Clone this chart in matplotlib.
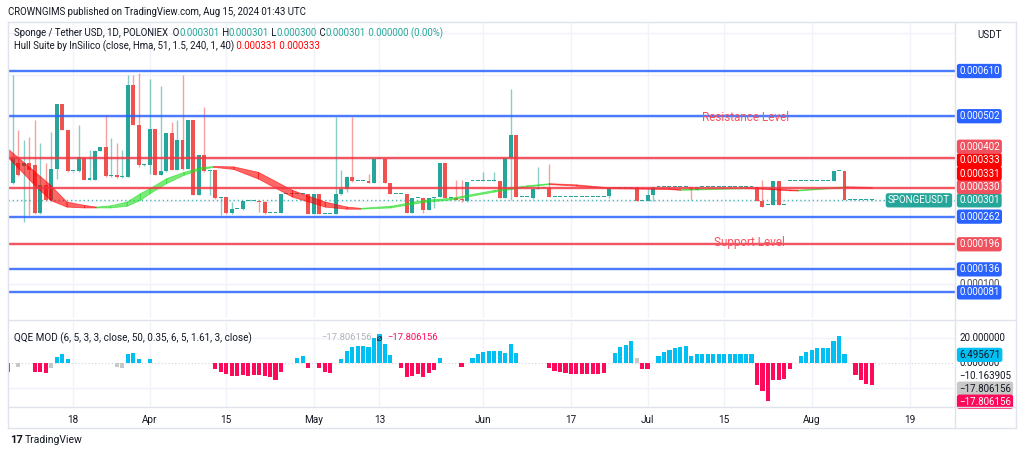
import numpy as np
import matplotlib.pyplot as plt
from matplotlib.lines import Line2D
from matplotlib.transforms import blended_transform_factory

plt.rcParams['font.family'] = ['Roboto', 'DejaVu Sans']

# daily bars, bar 0 = Mar 6 2024, prices in millionths of USDT
opens = [
    336, 342, 389, 384, 389, 385, 270, 338, 302, 377,
    530, 469, 370, 370, 401, 350, 350, 420, 428, 358,
    361, 356, 357, 577, 481, 385, 385, 471, 362, 370,
    461, 374, 445, 377, 493, 314, 409, 370, 374, 306,
    310, 270, 280, 280, 299, 299, 299, 297, 271, 271,
    271, 315, 315, 315, 315, 315, 268, 315, 269, 269,
    268, 315, 328, 357, 346, 346, 346, 342, 400, 400,
    342, 315, 315, 315, 271, 307, 307, 278, 307, 309,
    389, 307, 307, 304, 299, 346, 346, 346, 347, 347,
    348, 307, 401, 457, 309, 309, 307, 328, 331, 331,
    310, 310, 310, 310, 310, 310, 310, 310, 310, 310,
    312, 330, 330, 330, 330, 333, 299, 299, 314, 332,
    332, 332, 332, 332, 332, 332, 325, 332, 332, 332,
    332, 332, 332, 332, 332, 332, 332, 332, 299, 290,
    290, 347, 290, 347, 347, 347, 347, 347, 347, 347,
    347, 347, 371, 371, 301, 301, 301, 301, 301,
]
highs = [
    339, 600, 469, 445, 453, 493, 437, 389, 465, 530,
    530, 469, 370, 481, 401, 421, 421, 428, 505, 449,
    437, 421, 600, 600, 605, 388, 592, 471, 573, 461,
    489, 493, 600, 493, 493, 409, 525, 374, 374, 310,
    310, 297, 280, 300, 299, 299, 300, 300, 271, 271,
    315, 315, 315, 315, 315, 315, 315, 315, 269, 269,
    501, 373, 358, 501, 346, 346, 365, 400, 400, 400,
    342, 315, 315, 315, 307, 307, 307, 307, 309, 389,
    389, 307, 349, 349, 344, 346, 346, 368, 347, 368,
    348, 401, 568, 457, 309, 309, 328, 381, 331, 387,
    310, 310, 310, 310, 310, 310, 310, 310, 310, 310,
    330, 330, 330, 330, 333, 333, 299, 331, 333, 332,
    332, 332, 332, 332, 332, 332, 332, 332, 332, 332,
    332, 332, 332, 332, 332, 332, 332, 332, 349, 290,
    347, 347, 290, 347, 347, 347, 347, 347, 347, 347,
    347, 371, 371, 371, 301, 301, 301, 301, 301,
]
lows = [
    335, 341, 360, 250, 266, 268, 268, 300, 300, 353,
    469, 369, 369, 369, 349, 349, 349, 419, 357, 357,
    355, 355, 357, 481, 380, 384, 365, 361, 361, 369,
    373, 373, 373, 377, 313, 313, 369, 313, 305, 266,
    269, 269, 280, 279, 299, 299, 274, 269, 271, 271,
    270, 315, 315, 315, 315, 268, 268, 268, 269, 269,
    268, 313, 322, 345, 346, 346, 342, 342, 400, 342,
    315, 315, 315, 271, 271, 307, 271, 278, 282, 309,
    307, 307, 302, 298, 298, 346, 346, 346, 347, 347,
    307, 306, 302, 309, 309, 309, 305, 328, 331, 310,
    310, 310, 310, 310, 310, 310, 310, 310, 310, 310,
    306, 330, 330, 330, 330, 299, 299, 299, 299, 332,
    332, 332, 332, 332, 332, 302, 325, 332, 332, 332,
    332, 332, 332, 332, 332, 332, 332, 299, 286, 290,
    290, 290, 290, 347, 347, 347, 347, 347, 347, 347,
    347, 347, 371, 301, 301, 301, 301, 301, 300,
]
closes = [
    338, 405, 362, 389, 374, 270, 338, 302, 377, 530,
    469, 370, 370, 405, 350, 354, 420, 428, 358, 361,
    356, 357, 577, 481, 385, 387, 471, 362, 370, 461,
    374, 445, 377, 493, 314, 409, 370, 374, 306, 310,
    270, 280, 280, 299, 299, 299, 297, 270, 271, 271,
    315, 315, 315, 315, 315, 268, 315, 268, 269, 269,
    315, 329, 357, 346, 346, 346, 342, 400, 400, 342,
    315, 315, 315, 271, 307, 307, 278, 307, 309, 389,
    307, 307, 302, 301, 344, 346, 346, 349, 347, 349,
    307, 401, 457, 310, 309, 309, 328, 331, 331, 310,
    310, 310, 310, 310, 310, 310, 310, 310, 310, 310,
    330, 330, 330, 330, 333, 299, 299, 314, 333, 332,
    332, 332, 332, 332, 332, 325, 332, 332, 332, 332,
    332, 332, 332, 332, 332, 332, 332, 299, 286, 290,
    347, 290, 290, 347, 347, 347, 347, 347, 347, 347,
    347, 371, 371, 301, 301, 301, 301, 301, 301,
]

# Hull Suite ribbon, read at a few bars (upper / lower edge)
hull_bar = [0, 4.7, 7.8, 10.8, 14, 16.2, 18.8, 21.8, 24.2, 26,
            29, 32.2, 35.2, 37.6, 41.3, 45.8, 52, 58, 62, 64.5,
            70, 76, 81, 89, 95, 99, 104, 110, 116, 121,
            123, 135, 137, 143, 144.5, 153, 154.5, 158]
hull_hi = [425, 373, 338, 298, 290, 286, 289, 298, 318, 330,
           354, 369, 380, 383, 382, 369, 326, 298, 286, 283,
           288, 302, 307, 326, 337, 342, 339, 332, 331, 330,
           328, 332, 331.5, 327, 326.5, 334.5, 334, 333]
hull_lo = [405, 341, 302, 286, 284, 284, 284, 288, 302, 318,
           342, 362, 375, 381, 376, 353, 310, 286, 281, 281,
           284, 297, 303, 322, 334, 340, 336, 330, 329, 328,
           326, 330, 329.5, 325, 324.5, 332.5, 332, 331]

support_resist_blue = [610, 502, 262, 136, 81]
support_resist_red = [402, 330, 196]

# QQE MOD histogram
qqe_bar = [0, 2, 5, 6, 7, 8, 9, 10, 11, 20, 21, 22, 23, 24, 26,
           38, 39, 40, 41, 42, 43, 44, 45, 46, 47, 48, 49, 50,
           53, 54, 55, 57, 58, 59,
           61, 62, 63, 64, 65, 66, 67, 68, 69, 70,
           72, 73, 74, 75, 76, 77, 78, 79, 83,
           85, 86, 87, 88, 89, 90, 91, 92, 93,
           99, 100, 101, 102, 103, 104, 105, 106, 107, 108, 109,
           111, 112, 113, 114, 115, 116, 117,
           119, 120, 121, 122, 123, 124, 125, 126, 127, 128, 129, 130, 131, 132, 133, 134, 135, 136,
           137, 138, 139, 140, 141, 142, 143,
           145, 146, 147, 148, 149, 150, 151, 152, 153,
           155, 156, 157, 158]
qqe_val = [-7, -3, -7, -7, -8, -4, 5, 7, 3.5, -3, -4, 7, 8, 3.5, 3.5,
           -5, -7, -9, -10, -10, -9.5, -10, -9.5, -9.5, -10.5, -11.5, -13.5, -7,
           4, 6, -4, -4, -7, -8,
           3.5, 10, 13, 14, 14, 13, 20, 23, 15, 6.5,
           -4, -11, -10.5, -8.5, -11, -8, -5.5, 4, -3,
           4, 7, 9, 9.5, 10, 10, 8, 15.5, 8,
           -4, -6, -7.5, -8, -8.5, -8.5, -9, -9, -8.7, -8.5, -8,
           8, 12.5, 14.7, 18, 4, -5, -5,
           6, 9, 10.7, 12, 13, 13.3, 5.9, 7.2, 7.5, 7.5, 7.5, 7.5, 7.5, 7.5, 7.5, 7.5, 7.5, 7.5,
           -17.6, -22, -30, -13.6, -13.6, -13, -4.8,
           6, 8.9, 10.3, 11.7, 12.3, 12.3, 17.7, 22, 7,
           -9.6, -13.6, -16.8, -17.806156]
qqe_grey = [2, 8, 20, 21, 115]
qqe_line_last = 6.495671
qqe_level = -10.163905

tick_bars = [12, 26, 40, 56, 68, 87, 103, 117, 131, 147, 165]
tick_labels = ['18', 'Apr', '15', 'May', '13', 'Jun', '17', 'Jul', '15', 'Aug', '19']

TEAL = '#26A69A'
RED = '#EF5350'
BLUE = '#2962FF'
LVL_RED = '#F23645'
LVL_BOX = '#F0515E'
HULL_RED = '#FF0000'
HULL_GREEN = '#22DD22'
Q_UP = '#00BFF3'
Q_DN = '#FF0A5A'
Q_NT = '#C8C8C8'
TXT = '#131722'
GRID = '#F0F3FA'
FRAME = '#E0E3EB'

W, H = 1024, 458
fig = plt.figure(figsize=(W / 100, H / 100), dpi=100)


def box(x0, y0, x1, y1):
    return [x0 / W, 1 - y1 / H, (x1 - x0) / W, (y1 - y0) / H]


ax = fig.add_axes(box(8, 22, 955, 318))
axq = fig.add_axes(box(8, 322, 955, 407), sharex=ax)

# --- main pane ---
o, hi, lo, c = (np.array(a, dtype=float) for a in (opens, highs, lows, closes))
bars = np.arange(len(o))
col = np.where(c >= o, TEAL, RED)
ax.vlines(bars, lo, hi, colors=col, lw=1, alpha=0.55, zorder=3)
ax.bar(bars, np.maximum(np.abs(c - o), 2.4), bottom=np.minimum(o, c), width=0.72,
       color=col, lw=0, zorder=4)

hx, hh, hl = np.array(hull_bar), np.array(hull_hi), np.array(hull_lo)
for k in range(len(hx) - 1):
    seg = slice(k, k + 2)
    colr = HULL_GREEN if hh[k + 1] > hh[k] else HULL_RED
    ax.fill_between(hx[seg], hl[seg], hh[seg], color=colr, alpha=0.6, lw=0.6, zorder=5)

for v in support_resist_blue:
    ax.axhline(v, color=BLUE, lw=2.6, alpha=0.2, zorder=6)
    ax.axhline(v, color=BLUE, lw=1.15, zorder=6)
for v in support_resist_red:
    ax.axhline(v, color=LVL_RED, lw=2.6, alpha=0.2, zorder=6)
    ax.axhline(v, color=LVL_RED, lw=1.15, zorder=6)

ax.axhline(c[-1], color=TEAL, lw=1, ls=(0, (1, 2)), alpha=0.8, zorder=2)

ax.text(135, 500, 'Resistance Level', color='#F7525F', fontsize=8.5, ha='center', va='center', zorder=7)
ax.text(135.7, 201, 'Support Level', color='#F7525F', fontsize=8.5, ha='center', va='center', zorder=7)

ax.set_xlim(0.1, 173.2)
ax.set_ylim(19.8, 727.1)
ax.set_yticks([100, 200, 300, 400, 500, 600, 700])
ax.set_xticks(tick_bars)
ax.grid(True, color=GRID, lw=1, zorder=0)
ax.tick_params(left=False, bottom=False, labelleft=False, labelbottom=False)
for s in ax.spines.values():
    s.set_visible(False)


def scale_tag(axis, v, txt, fc=None, tc='white', z=10):
    tr = blended_transform_factory(axis.transAxes, axis.transData)
    bb = None
    if fc:
        bb = dict(boxstyle='round,pad=0.22,rounding_size=0.25', fc=fc, ec='none')
    axis.text(1 + 4 / 947, v, txt, transform=tr, ha='left', va='center', fontsize=7,
              color=tc, clip_on=False, zorder=z, bbox=bb)


def stacked(items, gap, upward=True):
    # push labels apart so boxes on the scale do not overlap
    items = sorted(items, key=lambda t: t[0], reverse=not upward)
    out, prev = [], None
    for v, fc in items:
        if prev is None:
            pos = v
        else:
            pos = max(v, prev + gap) if upward else min(v, prev - gap)
        out.append((pos, v, fc))
        prev = pos
    return out


scale_tag(ax, 100, '0.000100', tc='#4A4A4A', z=8)
tags = [(v, BLUE) for v in support_resist_blue] + [(v, LVL_BOX) for v in support_resist_red]
tags += [(hh[-1], HULL_RED), (hl[-1], HULL_RED), (c[-1], TEAL)]
for pos, v, fc in stacked(tags, 32):
    scale_tag(ax, pos, f'{v / 1e6:.6f}', fc)

tr = blended_transform_factory(ax.transAxes, ax.transData)
ax.text(1 - 5 / 947, c[-1], 'SPONGEUSDT', transform=tr, ha='right', va='center', fontsize=7,
        color='white', zorder=10, bbox=dict(boxstyle='round,pad=0.22,rounding_size=0.25', fc=TEAL, ec='none'))

# --- QQE pane ---
qb, qv = np.array(qqe_bar), np.array(qqe_val)
qcol = [Q_NT if b in qqe_grey else (Q_UP if v > 0 else Q_DN) for b, v in zip(qb, qv)]
axq.bar(qb, qv, width=0.76, color=qcol, lw=0, zorder=3)
axq.axhline(0, color='#D0D3DA', lw=0.8, ls=(0, (1, 2)), zorder=1)
axq.set_ylim(-35.2, 32.8)
axq.set_yticks([-20, 20])
axq.grid(True, color=GRID, lw=1, zorder=0)
axq.set_xticks(tick_bars, tick_labels)
axq.tick_params(left=False, labelleft=False, length=0, pad=5.5, labelsize=7.2, labelcolor=TXT)
for s in axq.spines.values():
    s.set_visible(False)

scale_tag(axq, 20, '20.000000', tc=TXT)
scale_tag(axq, 0, '0.000000', tc=TXT, z=8)
scale_tag(axq, qqe_line_last, f'{qqe_line_last:.6f}', Q_UP, tc=TXT)
low_tags = [(qqe_level, None), (qv[-1] - 1e-9, Q_NT), (qv[-1] - 2e-9, Q_DN)]
for pos, v, fc in stacked(low_tags, 10.4, upward=False):
    txt = f'{v:.6f}'.replace('-', '\u2212')
    scale_tag(axq, pos, txt, fc, tc=TXT if fc != Q_DN else 'white')

# --- frame ---
for xs, ys in [((8, 1016), (22, 22)), ((8, 1016), (428, 428)), ((8, 8), (22, 428)),
               ((1016, 1016), (22, 428)), ((955, 955), (22, 428)), ((8, 1016), (320, 320)),
               ((8, 1016), (407, 407))]:
    fig.add_artist(Line2D([x / W for x in xs], [1 - y / H for y in ys], color=FRAME, lw=1))

# --- header texts ---
renderer = fig.canvas.get_renderer()


def text_run(x, y, pieces, size=7.0):
    for s, colr in pieces:
        t = fig.text(x / W, 1 - y / H, s, color=colr, fontsize=size, ha='left', va='center')
        x += t.get_window_extent(renderer=renderer).width


fmt = lambda v: f'{v / 1e6:.6f}'
text_run(8, 12, [('CROWNGIMS published on TradingView.com, Aug 15, 2024 01:43 UTC', TXT)], 6.9)
text_run(14, 33, [('Sponge / Tether USD, 1D, POLONIEX', TXT),
                  ('  O', TXT), (fmt(o[-1]), TEAL), (' H', TXT), (fmt(hi[-1]), TEAL),
                  (' L', TXT), (fmt(lo[-1]), TEAL), (' C', TXT), (fmt(c[-1]), TEAL),
                  (' 0.000000 (0.00%)', TEAL)], 6.9)
text_run(14, 46, [('Hull Suite by InSilico (close, Hma, 51, 1.5, 240, 1, 40)', TXT),
                  (' ' + fmt(hl[-1]), HULL_RED), (' ' + fmt(hh[-1]), HULL_RED)], 6.9)
text_run(14, 338, [('QQE MOD (6, 5, 3, 3, close, 50, 0.35, 6, 5, 1.61, 3, close)', TXT)], 7.1)
q_last = f'{qv[-1]:.6f}'.replace('-', '\u2212')
text_run(321, 338, [(q_last, '#B2B5BE'), ('  \u2300  ', TXT), (q_last, Q_DN)], 6.8)
fig.text(990 / W, 1 - 35 / H, 'USDT', fontsize=7.1, color=TXT, ha='center', va='center')

fig.text(10 / W, 1 - 440 / H, '17', fontsize=8, fontweight='bold', color=TXT, ha='left', va='center')
fig.text(25 / W, 1 - 440 / H, 'TradingView', fontsize=7.5, color=TXT, ha='left', va='center')

fig.savefig('out.png', dpi=100)
plt.close(fig)
